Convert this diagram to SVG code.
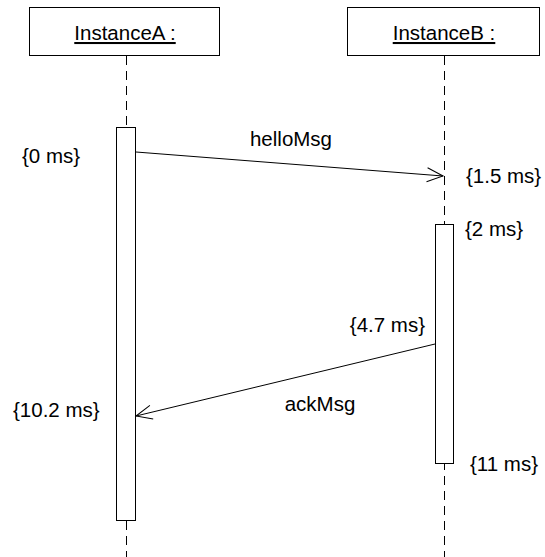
<svg xmlns="http://www.w3.org/2000/svg" width="545" height="557" viewBox="0 0 545 557">
<style>
text{font-family:"Liberation Sans",Arial,sans-serif;font-size:20.5px;fill:#000}
.box{fill:#fff;stroke:#000;stroke-width:1}
.life{stroke:#000;stroke-width:1;stroke-dasharray:9,6;fill:none}
.act{fill:#fff;stroke:#000;stroke-width:1}
.msg{stroke:#000;stroke-width:1;fill:none}
</style>
<defs>
<marker id="open" viewBox="0 0 20 20" refX="18" refY="10" markerWidth="20" markerHeight="20" markerUnits="userSpaceOnUse" orient="auto">
<path d="M2,3 L18,10 L2,17" fill="none" stroke="#000" stroke-width="1"/>
</marker>
</defs>
<g id="instanceA">
<rect class="box" x="29.5" y="7.5" width="190" height="48"/>
<text x="125" y="40" text-anchor="middle" text-decoration="underline">InstanceA :</text>
<line class="life" x1="126.5" y1="56" x2="126.5" y2="557"/>
<rect class="act" x="116.5" y="127.5" width="19" height="393"/>
</g>
<g id="instanceB">
<rect class="box" x="347.5" y="7.5" width="192" height="48"/>
<text x="444" y="40" text-anchor="middle" text-decoration="underline">InstanceB :</text>
<line class="life" x1="444.5" y1="56" x2="444.5" y2="557"/>
<rect class="act" x="435.5" y="224.5" width="18" height="239"/>
</g>
<g id="connectors">
<line class="msg" x1="136" y1="152" x2="443" y2="176" marker-end="url(#open)"/>
<line class="msg" x1="435" y1="344" x2="136" y2="416" marker-end="url(#open)"/>
</g>
<g id="labels">
<text x="291" y="146" text-anchor="middle">helloMsg</text>
<text x="320" y="411" text-anchor="middle">ackMsg</text>
<text x="22" y="163">{0 ms}</text>
<text x="466" y="183">{1.5 ms}</text>
<text x="465" y="236">{2 ms}</text>
<text x="425" y="332" text-anchor="end">{4.7 ms}</text>
<text x="13" y="417">{10.2 ms}</text>
<text x="470" y="471">{11 ms}</text>
</g>
</svg>
